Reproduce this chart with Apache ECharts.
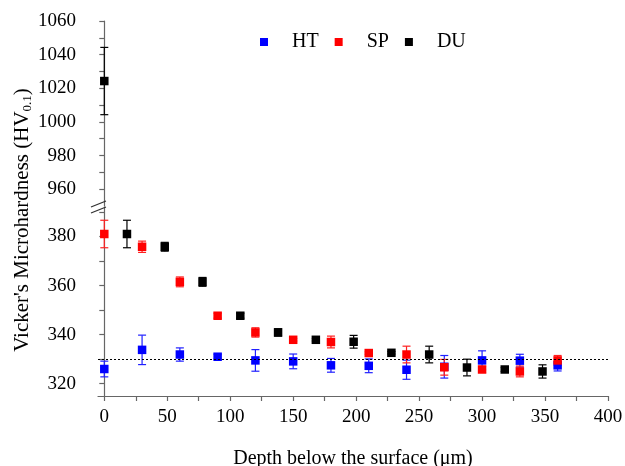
<!DOCTYPE html>
<html>
<head>
<meta charset="utf-8">
<script src="https://cdn.jsdelivr.net/npm/echarts@6/dist/echarts.min.js"></script>
<style>
  html, body { margin: 0; padding: 0; background: #fff; }
  #chart { width: 625px; height: 466px; }
</style>
</head>
<body>
<div id="chart"></div>
<script>
// depth (um), hardness (HV0.1) and error half-widths
var htX = [0, 30, 60, 90, 120, 150, 180, 210, 240, 270, 300, 330, 360];
var htY = [326, 333.8, 331.9, 331, 329.5, 329.1, 327.5, 327.3, 325.7, 326.9, 329.5, 329.4, 327.5];
var htErr = [3.2, 6, 2.7, 1, 4.4, 3, 2.8, 2.8, 3.9, 4.6, 3.9, 2.6, 2.3];

var spX = [0, 30, 60, 90, 120, 150, 180, 210, 240, 270, 300, 330, 360];
var spY = [381, 375.8, 361.5, 347.7, 340.9, 337.9, 337, 332.5, 331.9, 326.7, 325.8, 325, 329.5];
var spErr = [5.6, 2.3, 2, 1, 1.9, 0.5, 2.4, 0.5, 3.4, 3.2, 1.2, 2.2, 2];

var duX = [0, 18, 48, 78, 108, 138, 168, 198, 228, 258, 288, 318, 348];
var duY = [1024.3, 381, 375.8, 361.5, 347.7, 340.9, 337.9, 337.1, 332.6, 331.9, 326.6, 325.8, 325];
var duErr = [20, 5.6, 1.8, 1.8, 1, 1.5, 0.5, 2.6, 0.5, 3.4, 3.4, 0.8, 2.7];

var refLine = 330;

var xLabels = [0, 50, 100, 150, 200, 250, 300, 350, 400];
var xTicks = [0, 25, 50, 75, 100, 125, 150, 175, 200, 225, 250, 275, 300, 325, 350, 375, 400];
var yLowLabels = [320, 340, 360, 380];
var yLowTicks = [320, 330, 340, 350, 360, 370, 380, 390];
var yHighLabels = [960, 980, 1000, 1020, 1040, 1060];
var yHighTicks = [960, 970, 980, 990, 1000, 1010, 1020, 1030, 1040, 1050, 1060];

var FONT = 'Liberation Serif';
var BREAK = 950; // values above this go in the upper panel

function points(xs, ys, upper) {
  var out = [];
  xs.forEach(function (x, i) {
    if ((ys[i] > BREAK) === upper) out.push([x, ys[i]]);
  });
  return out;
}
function errors(xs, ys, es, upper) {
  var out = [];
  xs.forEach(function (x, i) {
    if ((ys[i] > BREAK) === upper) out.push([x, ys[i] - es[i], ys[i] + es[i]]);
  });
  return out;
}

function renderErr(params, api) {
  var x = api.value(0);
  var top = api.coord([x, api.value(2)]);
  var bot = api.coord([x, api.value(1)]);
  var w = 4;
  var st = { stroke: api.visual('color'), lineWidth: 1.2 };
  return {
    type: 'group',
    children: [
      { type: 'line', shape: { x1: top[0], y1: top[1], x2: bot[0], y2: bot[1] }, style: st },
      { type: 'line', shape: { x1: top[0] - w, y1: top[1], x2: top[0] + w, y2: top[1] }, style: st },
      { type: 'line', shape: { x1: bot[0] - w, y1: bot[1], x2: bot[0] + w, y2: bot[1] }, style: st }
    ]
  };
}

function errSeries(name, color, data, idx) {
  return {
    name: name + ' err',
    type: 'custom',
    xAxisIndex: idx,
    yAxisIndex: idx,
    renderItem: renderErr,
    itemStyle: { color: color, opacity: 0.85 },
    encode: { x: 0, y: [1, 2] },
    data: data,
    silent: true
  };
}
function dotSeries(name, color, data, idx) {
  return {
    name: name,
    type: 'scatter',
    xAxisIndex: idx,
    yAxisIndex: idx,
    symbol: 'rect',
    symbolSize: 8.5,
    itemStyle: { color: color, opacity: 1 },
    data: data
  };
}

// tick values are passed as strings, numbers did not draw any ticks here
function tickOpt(vals) {
  return {
    show: true,
    inside: false,
    length: 5,
    lineStyle: { color: '#666', width: 1.2 },
    customValues: vals.map(String)
  };
}
function labelOpt(vals, margin) {
  return {
    show: true,
    customValues: vals,
    margin: margin,
    color: '#000',
    fontFamily: FONT,
    fontSize: 19,
    formatter: function (v) { return String(v); }
  };
}
var axisLineStyle = { show: true, lineStyle: { color: '#666', width: 1.2 } };

var htSeries = dotSeries('HT', '#0000ff', points(htX, htY, false), 1);
htSeries.markLine = {
  silent: true,
  symbol: 'none',
  label: { show: false },
  lineStyle: { color: '#000', type: [2, 2], width: 1 },
  data: [{ yAxis: refLine }]
};

var option = {
  animation: false,
  backgroundColor: '#fff',
  legend: {
    data: ['HT', 'SP', 'DU'],
    left: 255,
    top: 27,
    icon: 'rect',
    itemWidth: 8,
    itemHeight: 8,
    itemGap: 16,
    textStyle: { fontFamily: FONT, fontSize: 20, color: '#000', padding: [0, 0, 0, 19] }
  },
  grid: [
    { left: 98, right: 17, top: 21, bottom: 260, outerBoundsMode: 'none' },
    { left: 98, right: 17, top: 207, bottom: 70, outerBoundsMode: 'none' }
  ],
  xAxis: [
    { gridIndex: 0, type: 'value', min: -5, max: 400, show: false },
    {
      gridIndex: 1, type: 'value', min: -5, max: 400,
      axisLine: axisLineStyle,
      axisTick: tickOpt(xTicks),
      axisLabel: labelOpt(xLabels, 12),
      splitLine: { show: false },
      name: 'Depth below the surface (\u03bcm)',
      nameLocation: 'middle',
      nameGap: 53,
      nameTextStyle: { fontFamily: FONT, fontSize: 20, color: '#000' }
    }
  ],
  yAxis: [
    {
      gridIndex: 0, type: 'value', min: 950, max: 1060,
      axisLine: axisLineStyle,
      axisTick: tickOpt(yHighTicks),
      axisLabel: labelOpt(yHighLabels, 22),
      splitLine: { show: false }
    },
    {
      gridIndex: 1, type: 'value', min: 315, max: 392,
      axisLine: axisLineStyle,
      axisTick: tickOpt(yLowTicks),
      axisLabel: labelOpt(yLowLabels, 22),
      splitLine: { show: false }
    }
  ],
  graphic: [
    {
      type: 'text',
      x: 22, y: 220,
      rotation: Math.PI / 2,
      style: {
        text: "{a|Vicker's Microhardness (HV}{s|0.1}{a|)}",
        align: 'center',
        verticalAlign: 'middle',
        rich: {
          a: { fontFamily: FONT, fontSize: 21, fill: '#000', lineHeight: 25 },
          s: { fontFamily: FONT, fontSize: 13, fill: '#000', lineHeight: 25, verticalAlign: 'bottom', padding: [8, 0, 0, 0] }
        }
      }
    },
    { type: 'line', shape: { x1: 91, y1: 207, x2: 106, y2: 201 }, style: { stroke: '#333', lineWidth: 1.2 }, z: 100 },
    { type: 'line', shape: { x1: 91, y1: 213, x2: 106, y2: 207 }, style: { stroke: '#333', lineWidth: 1.2 }, z: 100 }
  ],
  series: [
    errSeries('HT', '#2020ff', errors(htX, htY, htErr, false), 1),
    htSeries,
    errSeries('SP', '#ff2020', errors(spX, spY, spErr, false), 1),
    dotSeries('SP', '#ff0000', points(spX, spY, false), 1),
    errSeries('DU', '#000', errors(duX, duY, duErr, false), 1),
    dotSeries('DU', '#000000', points(duX, duY, false), 1),
    errSeries('DU', '#000', errors(duX, duY, duErr, true), 0),
    dotSeries('DU', '#000000', points(duX, duY, true), 0)
  ]
};

var chart = echarts.init(document.getElementById('chart'));
chart.setOption(option);
</script>
</body>
</html>
